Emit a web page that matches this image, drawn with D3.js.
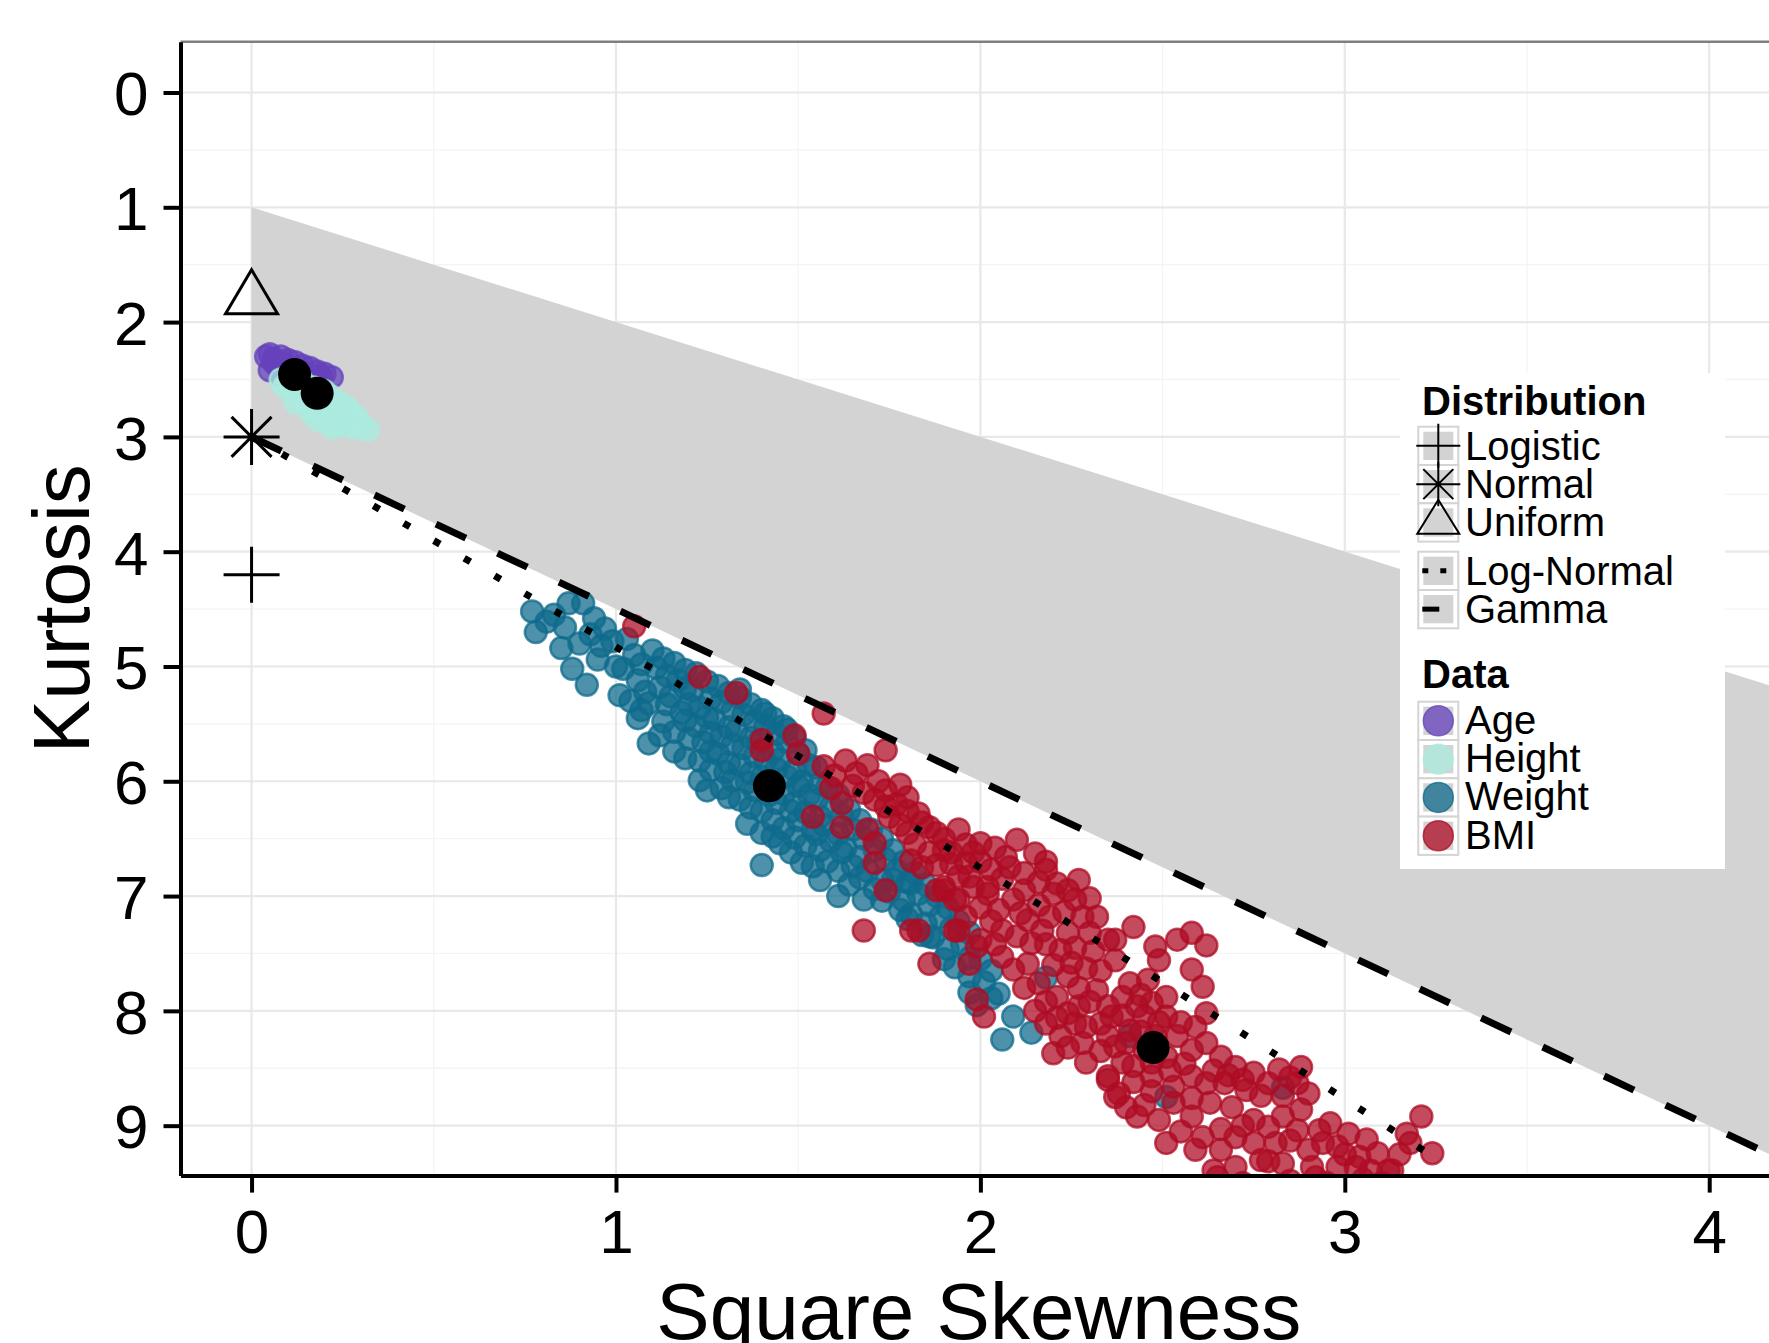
<!DOCTYPE html>
<html lang="en">
<head>
<meta charset="UTF-8">
<title>Cullen and Frey graph</title>
<script src="https://cdn.jsdelivr.net/npm/d3@7"></script>
<style>
  body { margin: 0; background: #fff; }
  svg { display: block; font-family: "Liberation Sans", Arial, sans-serif; }
  .legend-title { font-size: 40px; font-weight: bold; }
  .legend-label { font-size: 40px; }
</style>
</head>
<body>
<script>
// ---- data ----
var xTicks = [0, 1, 2, 3, 4];
var yTicks = [0, 1, 2, 3, 4, 5, 6, 7, 8, 9];
var xMinor = [0.5, 1.5, 2.5, 3.5];
var yMinor = [0.5, 1.5, 2.5, 3.5, 4.5, 5.5, 6.5, 7.5, 8.5];

// theoretical distributions (square skewness, kurtosis)
var distNames = ["Logistic", "Normal", "Uniform"];
var distSkew2 = [0, 0, 0];
var distKurt = [4.2, 3, 1.8];
var lineNames = ["Log-Normal", "Gamma"];
var betaUpper = [[0, 1], [4.4, 5.4]];
var gammaLine = [[0, 3], [4.4, 9.6]];
var lognormalLine = [[0, 3], [0.232, 3.415], [0.477, 3.861], [1.014, 4.856], [1.618, 6.008], [2.298, 7.345], [3.063, 8.898], [3.27, 9.33]];

// observed data
var dataNames = ["Age", "Height", "Weight", "BMI"];
var dataColors = ["#6542bb", "#abebde", "#0f6a8c", "#ae0c24"];
var obsSkew2 = [0.118, 0.18, 1.421, 2.474];
var obsKurt = [2.456, 2.62, 6.04, 8.32];

// bootstrap samples
var ageBoot = [[0.05,2.28],[0.06,2.32],[0.08,2.30],[0.10,2.33],[0.12,2.35],[0.07,2.38],[0.09,2.40],[0.11,2.42],[0.14,2.38],
  [0.16,2.40],[0.18,2.43],[0.20,2.45],[0.22,2.48],[0.05,2.42],[0.08,2.46],[0.13,2.45],[0.15,2.47],[0.17,2.50],[0.10,2.50],
  [0.12,2.52],[0.06,2.35],[0.04,2.30],[0.19,2.47],[0.14,2.43],[0.09,2.36]];
var heightBoot = [[0.08,2.50],[0.10,2.52],[0.12,2.55],[0.14,2.58],[0.16,2.62],[0.18,2.65],[0.20,2.70],[0.22,2.74],[0.24,2.78],
  [0.26,2.82],[0.28,2.86],[0.30,2.90],[0.32,2.94],[0.13,2.65],[0.15,2.70],[0.17,2.75],[0.19,2.80],[0.21,2.84],[0.23,2.88],
  [0.25,2.90],[0.20,2.60],[0.22,2.65],[0.24,2.70],[0.26,2.74],[0.11,2.60],[0.14,2.52],[0.17,2.57],[0.19,2.62],[0.27,2.78],
  [0.29,2.83],[0.16,2.78],[0.18,2.85],[0.22,2.92],[0.12,2.70],[0.09,2.56],[0.21,2.78],[0.25,2.85],[0.28,2.92]];
var weightBoot = [[0.77,4.52],[0.78,4.70],[0.81,4.61],[0.85,4.84],[0.88,5.02],[0.92,5.16],[1.01,5.25],[0.87,4.45],[0.91,4.45],
  [0.90,4.80],[0.95,4.94],[0.97,4.67],[0.83,4.55],[0.86,4.66],[0.94,4.58],[0.99,4.78],[0.93,4.72],
  [1.03,4.76],[1.05,4.90],[1.02,5.02],[1.06,5.12],[1.04,5.30],[1.06,5.45],
  [1.09,5.67],[1.10,4.86],[1.11,5.01],[1.12,5.18],[1.09,5.32],[1.13,5.48],
  [1.16,4.97],[1.17,5.12],[1.15,5.26],[1.18,5.40],[1.16,5.57],[1.16,5.74],
  [1.22,5.06],[1.21,5.21],[1.23,5.36],[1.22,5.52],[1.24,5.66],[1.23,5.82],[1.23,5.99],[1.25,6.08],
  [1.28,5.17],[1.29,5.31],[1.27,5.46],[1.29,5.61],[1.28,5.76],[1.30,5.92],[1.29,6.06],
  [1.34,5.27],[1.35,5.42],[1.33,5.56],[1.35,5.71],[1.34,5.86],[1.36,6.01],[1.34,6.16],[1.36,6.37],
  [1.40,5.38],[1.41,5.52],[1.39,5.66],[1.41,5.82],[1.40,5.96],[1.42,6.12],[1.40,6.26],[1.40,6.45],[1.40,6.73],
  [1.46,5.52],[1.47,5.66],[1.45,5.81],[1.47,5.96],[1.46,6.11],[1.48,6.26],[1.46,6.41],[1.45,6.54],
  [1.52,5.73],[1.53,5.86],[1.51,6.00],[1.53,6.12],[1.52,6.27],[1.54,6.42],[1.52,6.56],[1.51,6.71],
  [1.58,6.05],[1.59,6.22],[1.57,6.38],[1.59,6.52],[1.58,6.70],[1.56,6.86],
  [1.64,6.25],[1.65,6.42],[1.63,6.58],[1.65,6.74],[1.64,6.90],[1.61,7.00],
  [1.70,6.42],[1.71,6.60],[1.69,6.78],[1.71,6.94],[1.68,7.03],
  [1.76,6.60],[1.77,6.78],[1.75,6.96],[1.78,7.12],[1.76,6.86],
  [1.82,6.80],[1.83,6.98],[1.81,7.16],[1.84,7.34],
  [1.88,7.00],[1.89,7.18],[1.87,7.36],[1.90,7.55],
  [1.94,7.22],[1.95,7.42],[1.93,7.62],
  [2.00,7.55],[2.01,7.75],[1.99,7.95],[2.05,7.85],
  [0.96,4.82],[1.00,5.00],[1.07,4.98],[1.08,5.22],[1.07,5.38],[1.13,4.93],[1.14,5.08],[1.14,5.33],[1.12,5.60],
  [1.19,5.03],[1.19,5.19],[1.20,5.33],[1.19,5.47],[1.20,5.63],[1.19,5.80],[1.25,5.13],[1.26,5.28],[1.25,5.44],
  [1.26,5.58],[1.26,5.74],[1.26,5.90],[1.31,5.23],[1.32,5.38],[1.31,5.53],[1.32,5.68],[1.31,5.84],[1.32,5.99],
  [1.31,6.14],[1.37,5.33],[1.38,5.48],[1.37,5.62],[1.38,5.78],[1.37,5.93],[1.38,6.08],[1.37,6.23],[1.43,5.45],
  [1.44,5.59],[1.43,5.74],[1.44,5.89],[1.43,6.04],[1.44,6.19],[1.43,6.34],[1.43,6.48],[1.49,5.62],[1.50,5.76],
  [1.49,5.90],[1.50,6.04],[1.49,6.19],[1.50,6.34],[1.49,6.49],[1.48,6.62],[1.55,5.88],[1.56,6.02],[1.55,6.16],
  [1.56,6.31],[1.55,6.46],[1.56,6.60],[1.54,6.74],[1.61,6.12],[1.62,6.30],[1.61,6.46],[1.62,6.62],[1.61,6.78],
  [1.67,6.34],[1.68,6.50],[1.67,6.66],[1.67,6.84],[1.73,6.50],[1.74,6.68],[1.73,6.86],[1.73,7.04],[1.79,6.70],
  [1.80,6.88],[1.79,7.04],[1.80,7.20],[1.85,6.90],[1.86,7.08],[1.85,7.24],[1.91,7.10],[1.92,7.28],[1.91,7.46],
  [1.97,7.32],[1.97,7.70],[2.03,7.65],
  [1.41,5.41],[1.34,5.20],[1.47,5.55],[1.81,6.89],[1.86,7.35],[1.97,7.54],[1.97,7.84],[2.03,7.89],[2.06,8.25],
  [2.14,8.19],[2.18,7.71],[2.09,8.05],[2.41,8.22],[2.51,8.75],[2.83,8.67]];
var bmiBoot = [[1.05,4.65],[1.23,5.09],[1.33,5.23],[1.57,5.41],[1.74,5.73],[1.40,5.64],[1.49,5.60],[1.40,5.73],[1.50,5.76],
  [1.54,6.31],[1.62,6.40],[1.71,6.71],[1.74,6.95],[1.68,7.30],[1.81,7.30],[1.86,7.59],[1.97,7.59],[1.90,6.92],[1.93,7.03],
  [1.94,7.30],[2.00,7.38],[1.99,7.90],[2.01,8.05],
  [1.57,5.87],[1.63,5.82],[1.69,5.86],[1.59,6.06],[1.65,6.04],[1.72,6.00],[1.78,6.03],[1.62,6.19],[1.71,6.16],[1.77,6.20],
  [1.69,6.42],[1.71,6.54],[1.75,6.31],[1.80,6.26],[1.83,6.28],[1.86,6.40],[1.88,6.45],[1.82,6.55],[1.86,6.62],[1.90,6.60],
  [1.94,6.42],[1.96,6.55],[2.00,6.54],[1.92,6.72],[1.96,6.71],[2.03,6.77],[2.02,6.98],[1.84,6.75],[1.81,6.69],[1.90,6.95],
  [1.94,6.83],[2.04,6.58],[2.07,6.66],[2.10,6.51],[2.15,6.63],[2.18,6.77],[2.21,6.89],[2.26,7.03],[2.28,7.18],[2.24,7.32],
  [2.22,7.47],[2.13,7.21],[2.09,7.03],[2.02,6.92],[1.97,6.83],[1.94,7.03],[1.88,6.95],[1.83,7.30],[1.93,7.30],[1.99,7.44],
  [2.06,7.53],[2.14,7.41],[2.17,7.30],[2.11,7.15],[2.06,7.30],[2.13,7.59],[2.20,6.98],[2.27,6.86],
  [2.16,7.76],[2.21,7.88],[2.24,7.70],[2.27,7.96],[2.32,7.82],[2.35,7.96],[2.37,7.56],[2.41,7.76],[2.42,7.27],[2.43,7.96],
  [2.47,7.93],[2.51,8.05],[2.41,8.17],[2.35,8.22],[2.28,8.28],[2.22,8.22],[2.20,8.37],[2.18,8.11],[2.26,8.11],[2.33,8.11],
  [2.37,8.31],[2.45,8.34],[2.51,8.40],[2.47,8.57],[2.54,8.22],[2.58,8.34],[2.62,8.28],[2.66,8.40],[2.70,8.49],[2.75,8.54],
  [2.79,8.63],[2.82,8.51],[2.87,8.63],[2.88,8.49],[2.58,8.57],[2.62,8.63],[2.67,8.63],[2.73,8.69],[2.35,8.60],[2.38,8.72],
  [2.35,7.38],[2.37,7.38],[2.48,7.44],[2.54,7.38],[2.58,7.32],[2.62,7.43],[2.49,7.56],[2.58,7.64],[2.61,7.79],[2.62,8.02],
  [2.59,8.14],[2.46,7.73],[2.51,7.88],[2.29,7.63],[2.31,7.48],[2.45,8.05],[2.39,8.45],
  [2.35,8.57],[2.37,8.75],[2.43,8.92],[2.49,8.95],[2.51,9.15],[2.58,8.92],[2.61,9.10],[2.66,9.21],[2.70,9.10],[2.75,8.95],
  [2.79,9.01],[2.83,8.92],[2.87,9.04],[2.88,8.86],[2.94,9.15],[2.96,8.98],[3.01,9.07],[3.04,9.27],[3.09,9.24],[3.12,9.39],
  [3.17,9.07],[3.21,8.92],[3.24,9.24],[3.18,9.15],[2.64,9.39],[2.70,9.36],[2.77,9.30],[2.83,9.33],[2.91,9.36],[2.98,9.36],
  [3.07,9.39],[3.13,9.39],[2.90,9.21],[2.98,9.18],[2.81,9.15],[2.75,9.15],[2.59,9.21],[2.65,9.45],[2.79,9.31],[3.03,9.36],
  [2.85,9.48],[2.95,9.50],[3.10,9.50],[2.72,9.50],
  [1.60,5.95],[1.66,5.93],[1.68,6.10],[1.74,6.08],[1.74,6.22],[1.80,6.14],[1.78,6.38],[1.84,6.36],[1.80,6.45],[1.90,6.50],
  [1.92,6.62],[1.88,6.73],[1.98,6.62],[2.00,6.70],[1.98,6.92],[2.06,6.85],[2.05,7.12],[2.08,6.75],[2.12,6.80],[2.12,6.95],
  [2.16,6.88],[2.16,7.08],[2.19,7.18],[2.23,7.14],[2.18,6.70],[2.24,6.95],[2.30,7.02],[2.32,7.18],[2.30,7.32],[2.26,7.45],
  [2.20,7.60],[2.10,7.35],[2.03,7.22],[2.00,7.10],[2.18,7.42],[2.25,7.58],[2.18,7.92],[2.24,8.02],[2.30,7.92],[2.29,8.14],
  [2.36,8.05],[2.39,7.88],[2.44,7.86],[2.39,8.04],[2.44,8.18],[2.48,8.22],[2.49,8.10],[2.55,8.10],[2.56,8.46],[2.52,8.52],
  [2.47,8.45],[2.42,8.48],[2.42,8.62],[2.47,8.70],[2.53,8.66],[2.58,8.76],[2.64,8.52],[2.68,8.56],[2.72,8.60],[2.77,8.74],
  [2.83,8.74],[2.90,8.72],[2.85,8.58],[2.63,8.80],[2.69,8.84],[2.53,8.80],[2.45,8.82],[2.40,8.84],[2.72,9.00],[2.66,9.03],
  [2.55,9.05],[2.85,9.13],[2.93,9.04],[3.00,9.25],[3.06,9.12],[3.15,9.25],[2.92,9.45],[3.05,9.47],[2.40,8.28],[2.33,8.35],
  [2.29,8.45],[2.24,8.32],[2.27,7.80],[2.33,7.65],[2.21,8.06],[1.96,7.18],[2.04,7.42],[2.09,7.64],[2.12,7.80],[2.15,8.00]];
var bootData = [ageBoot, heightBoot, weightBoot, bmiBoot];

// ---- canvas ----
var W = 1769, H = 1343;
var svg = d3.select("body").append("svg").attr("width", W).attr("height", H);

var x = d3.scaleLinear().domain([-0.195, 4.186]).range([180.5, 1777]);
var y = d3.scaleLinear().domain([-0.4425, 9.435]).range([41.7, 1175.6]);

svg.append("defs").append("clipPath").attr("id", "panel")
  .append("rect")
  .attr("x", x.range()[0]).attr("y", y.range()[0])
  .attr("width", x.range()[1] - x.range()[0])
  .attr("height", y.range()[1] - y.range()[0]);

var panel = svg.append("g").attr("clip-path", "url(#panel)");

/* GRID */
panel.selectAll(".xminor").data(xMinor).enter().append("line")
  .attr("x1", d => x(d)).attr("x2", d => x(d))
  .attr("y1", y.range()[0]).attr("y2", y.range()[1])
  .attr("stroke", "#f4f4f4").attr("stroke-width", 1.3);
panel.selectAll(".yminor").data(yMinor).enter().append("line")
  .attr("y1", d => y(d)).attr("y2", d => y(d))
  .attr("x1", x.range()[0]).attr("x2", x.range()[1])
  .attr("stroke", "#f4f4f4").attr("stroke-width", 1.3);
panel.selectAll(".xmajor").data(xTicks).enter().append("line")
  .attr("x1", d => x(d)).attr("x2", d => x(d))
  .attr("y1", y.range()[0]).attr("y2", y.range()[1])
  .attr("stroke", "#e8e8e8").attr("stroke-width", 2.2);
panel.selectAll(".ymajor").data(yTicks).enter().append("line")
  .attr("y1", d => y(d)).attr("y2", d => y(d))
  .attr("x1", x.range()[0]).attr("x2", x.range()[1])
  .attr("stroke", "#e8e8e8").attr("stroke-width", 2.2);

/* BETA REGION */
var region = betaUpper.concat(gammaLine.slice().reverse());
panel.append("path")
  .attr("d", d3.line().x(d => x(d[0])).y(d => y(d[1]))(region) + "Z")
  .attr("fill", "#d3d3d3");

/* BOOTSTRAP POINTS */
bootData.forEach(function(pts, i) {
  panel.append("g").selectAll("circle").data(pts).enter().append("circle")
    .attr("cx", d => x(d[0])).attr("cy", d => y(d[1]))
    .attr("r", 11)
    .attr("fill", dataColors[i]).attr("fill-opacity", 0.74)
    .attr("stroke", dataColors[i]).attr("stroke-opacity", 0.74)
    .attr("stroke-width", 2.5);
});

/* THEORETICAL LINES */
panel.append("path")
  .attr("d", d3.line().curve(d3.curveCatmullRom).x(d => x(d[0])).y(d => y(d[1]))(lognormalLine))
  .attr("fill", "none").attr("stroke", "#000")
  .attr("stroke-width", 7).attr("stroke-dasharray", "7,28");
panel.append("path")
  .attr("d", d3.line().x(d => x(d[0])).y(d => y(d[1]))(gammaLine))
  .attr("fill", "none").attr("stroke", "#000")
  .attr("stroke-width", 7).attr("stroke-dasharray", "33,35");

/* OBSERVED */
panel.selectAll(".obs").data(obsSkew2).enter().append("circle")
  .attr("cx", d => x(d)).attr("cy", (d, i) => y(obsKurt[i]))
  .attr("r", 16.5).attr("fill", "#000");

/* DISTRIBUTION MARKERS */
function plusPath(cx, cy, a) {
  return "M" + (cx - a) + "," + cy + "H" + (cx + a) + "M" + cx + "," + (cy - a) + "V" + (cy + a);
}
function starPath(cx, cy, a, b) {
  return plusPath(cx, cy, a) + "M" + (cx - b) + "," + (cy - b) + "L" + (cx + b) + "," + (cy + b) +
    "M" + (cx - b) + "," + (cy + b) + "L" + (cx + b) + "," + (cy - b);
}
function triPath(cx, cy, w, h) {
  return "M" + cx + "," + (cy - 2 * h / 3) + "L" + (cx + w / 2) + "," + (cy + h / 3) +
    "L" + (cx - w / 2) + "," + (cy + h / 3) + "Z";
}
function markerPath(name, cx, cy, big) {
  if (name == "Logistic") return plusPath(cx, cy, big ? 28 : 22);
  if (name == "Normal") return starPath(cx, cy, big ? 28 : 22, big ? 20 : 15);
  return triPath(cx, cy, big ? 52 : 42, big ? 44 : 34);
}
distNames.forEach(function(n, i) {
  svg.append("path")
    .attr("d", markerPath(n, x(distSkew2[i]), y(distKurt[i]), true))
    .attr("fill", "none").attr("stroke", "#000").attr("stroke-width", 3);
});

/* AXES */
svg.append("line")
  .attr("x1", x.range()[0]).attr("x2", x.range()[1])
  .attr("y1", y.range()[0]).attr("y2", y.range()[0])
  .attr("stroke", "#7f7f7f").attr("stroke-width", 2.5);

var axisY = d3.axisLeft(y).tickValues(yTicks).tickFormat(d3.format("d"))
  .tickSize(17).tickSizeOuter(0).tickPadding(15);
var gy = svg.append("g").attr("transform", "translate(" + x.range()[0] + ",0)").call(axisY);
var axisX = d3.axisBottom(x).tickValues(xTicks).tickFormat(d3.format("d"))
  .tickSize(17).tickSizeOuter(0).tickPadding(16);
var gx = svg.append("g").attr("transform", "translate(0," + y.range()[1] + ")").call(axisX);
[gx, gy].forEach(function(g) {
  g.attr("font-family", null).attr("font-size", 62);
  g.select(".domain").attr("stroke", "#000").attr("stroke-width", 4);
  g.selectAll(".tick line").attr("stroke", "#000").attr("stroke-width", 4);
  g.selectAll(".tick text").attr("fill", "#000");
});
gy.selectAll(".tick text").attr("dy", "0.36em");

svg.append("text")
  .attr("x", (x.range()[0] + x.range()[1]) / 2).attr("y", 1339)
  .attr("text-anchor", "middle").attr("font-size", 80)
  .text("Square Skewness");
svg.append("text")
  .attr("transform", "translate(89," + (y.range()[0] + y.range()[1]) / 2 + ") rotate(-90)")
  .attr("text-anchor", "middle").attr("font-size", 80)
  .text("Kurtosis");

/* LEGEND */
var legend = svg.append("g");
legend.append("rect").attr("x", 1400).attr("y", 373).attr("width", 325).attr("height", 496).attr("fill", "#fff");

var keyX = 1418.3, keyW = 40, keyH = 38.3, labelX = 1465;
function drawKey(top) {
  legend.append("rect").attr("x", keyX).attr("y", top).attr("width", keyW).attr("height", keyH)
    .attr("fill", "#fff").attr("stroke", "#d4d4d4").attr("stroke-width", 2);
  legend.append("rect").attr("x", keyX + 5).attr("y", top + 5).attr("width", keyW - 10).attr("height", keyH - 10)
    .attr("fill", "#d3d3d3");
}

legend.append("text").attr("class", "legend-title").attr("x", 1422).attr("y", 415).text("Distribution");
var top1 = 426.7;
distNames.forEach(function(n, i) { drawKey(top1 + i * keyH); });
distNames.forEach(function(n, i) {
  var cy = top1 + i * keyH + keyH / 2;
  legend.append("path").attr("d", markerPath(n, keyX + keyW / 2, cy, false))
    .attr("fill", "none").attr("stroke", "#000").attr("stroke-width", 2);
  legend.append("text").attr("class", "legend-label").attr("x", labelX).attr("y", cy + 14).text(n);
});

var top2 = 551.7;
lineNames.forEach(function(n, i) {
  drawKey(top2 + i * keyH);
  var cy = top2 + i * keyH + keyH / 2;
  legend.append("line").attr("x1", keyX + 4).attr("x2", keyX + 30).attr("y1", cy).attr("y2", cy)
    .attr("stroke", "#000").attr("stroke-width", 5)
    .attr("stroke-dasharray", i == 0 ? "6,12" : "17,40");
  legend.append("text").attr("class", "legend-label").attr("x", labelX).attr("y", cy + 14).text(n);
});

legend.append("text").attr("class", "legend-title").attr("x", 1422).attr("y", 688).text("Data");
var top3 = 701.7;
dataNames.forEach(function(n, i) {
  drawKey(top3 + i * keyH);
  var cy = top3 + i * keyH + keyH / 2;
  legend.append("circle").attr("cx", keyX + keyW / 2).attr("cy", cy).attr("r", 15)
    .attr("fill", dataColors[i]).attr("fill-opacity", 0.75)
    .attr("stroke", dataColors[i]).attr("stroke-opacity", 0.75).attr("stroke-width", 1.5);
  legend.append("text").attr("class", "legend-label").attr("x", labelX).attr("y", cy + 13).text(n);
});
</script>
</body>
</html>
